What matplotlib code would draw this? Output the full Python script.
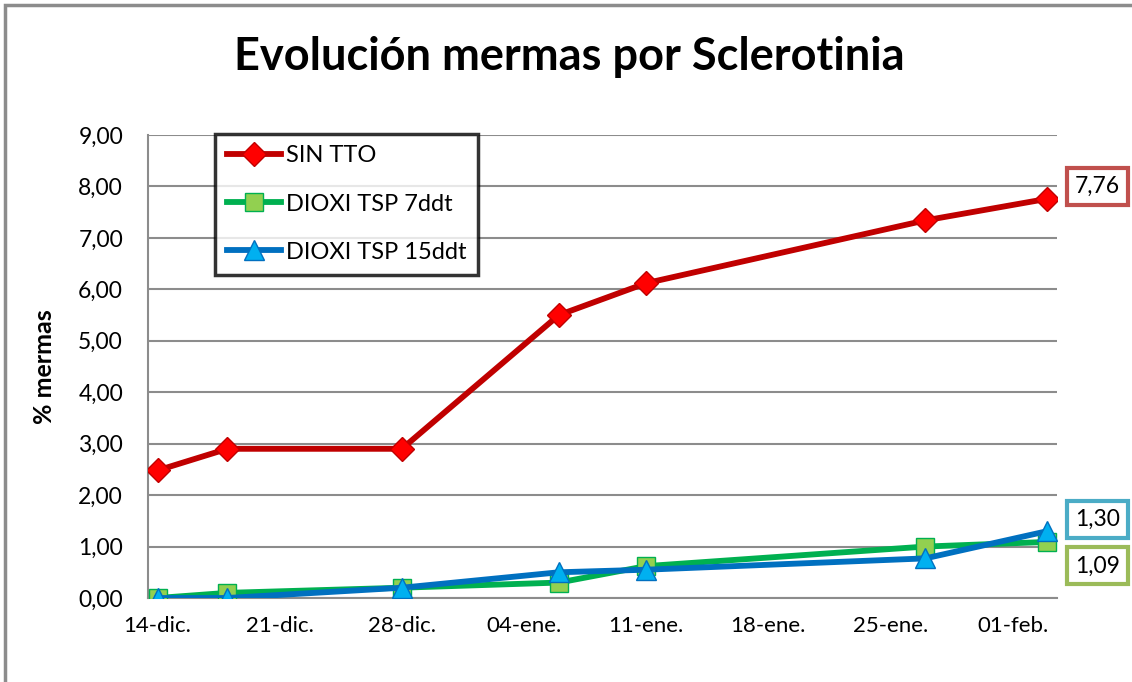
import numpy as np
import matplotlib.pyplot as plt
import matplotlib.dates as mdates
from matplotlib.patches import Rectangle
from datetime import date, timedelta

plt.rcParams['font.family'] = ['Lato', 'DejaVu Sans']

# Fechas de muestreo y mermas (%)
fechas = [date(2020, 12, 14), date(2020, 12, 18), date(2020, 12, 28),
          date(2021, 1, 6), date(2021, 1, 11), date(2021, 1, 27), date(2021, 2, 3)]
sin_tto = [2.48, 2.90, 2.90, 5.50, 6.12, 7.34, 7.76]
dioxi_7 = [0.00, 0.10, 0.20, 0.30, 0.62, 1.00, 1.09]
dioxi_15 = [0.00, 0.00, 0.20, 0.50, 0.55, 0.77, 1.30]

meses = {12: 'dic', 1: 'ene', 2: 'feb'}

fig = plt.figure(figsize=(11.32, 6.82), dpi=100)
ax = fig.add_axes([148 / 1132, 1 - 598 / 682, (1057 - 148) / 1132, (598 - 135) / 682])

# borde del area del grafico
fig.patches.append(Rectangle((5 / 1132, -0.1), 1.2, 1 - 5 / 682 + 0.1,
                             transform=fig.transFigure, fill=False,
                             edgecolor='#8c8c8c', linewidth=2.5))

ax.plot(fechas, sin_tto, color='#c00000', lw=4.2, marker='D', ms=12,
        mfc='#ff0000', mec='#c00000', mew=1, label='SIN TTO', zorder=3)
ax.plot(fechas, dioxi_7, color='#00b050', lw=4.2, marker='s', ms=13,
        mfc='#92d050', mec='#00b050', mew=1, label='DIOXI TSP 7ddt', zorder=4)
ax.plot(fechas, dioxi_15, color='#0070c0', lw=4.2, marker='^', ms=14,
        mfc='#00b0f0', mec='#0070c0', mew=1, label='DIOXI TSP 15ddt', zorder=5)

x0 = mdates.date2num(fechas[0])
ax.set_xlim(x0 - 0.55, mdates.date2num(fechas[-1]) + 0.55)
ax.set_ylim(0, 9)
ax.set_yticks(np.arange(0, 10, 1))
ax.set_yticklabels([f'{v:.2f}'.replace('.', ',') for v in np.arange(0, 10, 1)])

ticks = [fechas[0] + timedelta(days=7 * i) for i in range(8)]
ax.set_xticks(ticks)
ax.set_xticklabels([f'{d.day:02d}-{meses[d.month]}.' for d in ticks])

ax.grid(axis='y', color='#8c8c8c', lw=1.5)
ax.set_axisbelow(True)
for s in ['top', 'right']:
    ax.spines[s].set_visible(False)
for s in ['left', 'bottom']:
    ax.spines[s].set_color('#8c8c8c')
    ax.spines[s].set_linewidth(1.5)
ax.tick_params(axis='x', length=0, labelsize=16, pad=13)
ax.tick_params(axis='y', length=0, labelsize=16.5, pad=18)

ax.set_ylabel('% mermas', fontsize=18, fontweight='bold', labelpad=16)
fig.text(0.503, 1 - 57 / 682, 'Evolución mermas por Sclerotinia', fontsize=32.5,
         fontweight='bold', ha='center', va='center')

leg = ax.legend(loc='upper left', bbox_to_anchor=((215 - 148) / 909, 1.003),
                fontsize=17, frameon=True, fancybox=False, borderpad=0.5,
                labelspacing=1.15, handlelength=2.3, handletextpad=0.2,
                borderaxespad=0)
leg.get_frame().set_edgecolor('black')
leg.get_frame().set_linewidth(2.5)

# etiquetas del ultimo valor (desplazamiento vertical en pixeles)
etiquetas = [(sin_tto[-1], 12, '#c0504d'), (dioxi_15[-1], 12, '#4bacc6'),
             (dioxi_7[-1], -24, '#9bbb59')]
for val, dy, col in etiquetas:
    ax.annotate(f'{val:.2f}'.replace('.', ','), xy=(fechas[-1], val),
                xytext=(36, dy / 1.389), textcoords='offset points',
                ha='center', va='center', fontsize=16.5, annotation_clip=False,
                bbox=dict(boxstyle='square,pad=0.35', fc='white', ec=col, lw=3))

fig.savefig('out.png', dpi=100)
